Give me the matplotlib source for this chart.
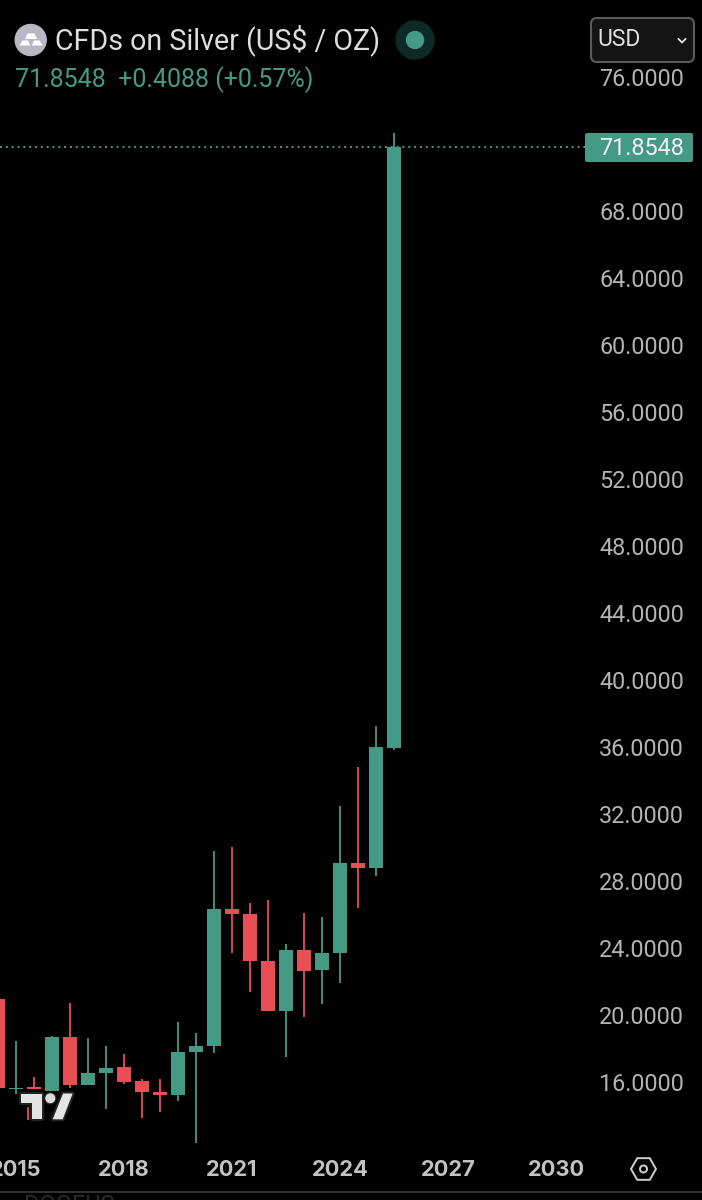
import matplotlib
matplotlib.use("Agg")
import matplotlib.pyplot as plt
import numpy as np
from matplotlib.patches import Circle, FancyBboxPatch, Polygon, Rectangle, RegularPolygon

plt.rcParams["font.family"] = ["Roboto", "DejaVu Sans"]

# half-year candles
periods = [2014.5, 2015.0, 2015.5, 2016.0, 2016.5, 2017.0, 2017.5, 2018.0,
           2018.5, 2019.0, 2019.5, 2020.0, 2020.5, 2021.0, 2021.5, 2022.0,
           2022.5, 2023.0, 2023.5, 2024.0, 2024.5, 2025.0, 2025.5]
opens = [21.00, 15.64, 15.74, 15.52, 18.72, 15.86, 16.58, 16.94,
         16.10, 15.48, 15.28, 17.85, 18.21, 26.37, 26.11, 23.30,
         20.28, 23.94, 22.75, 23.76, 29.13, 28.85, 36.00]
closes = [15.70, 15.73, 15.62, 18.73, 15.86, 16.58, 16.91, 16.08,
          15.45, 15.27, 17.85, 18.23, 26.37, 26.11, 23.28, 20.28,
          23.94, 22.70, 23.78, 29.13, 28.85, 36.06, 71.8548]
highs = [21.00, 18.51, 16.38, 18.81, 20.79, 18.67, 18.23, 17.71,
         16.22, 16.22, 19.64, 18.97, 29.87, 30.11, 26.76, 26.94,
         24.30, 26.15, 25.93, 32.54, 34.87, 37.31, 72.72]
lows = [15.70, 15.34, 15.62, 15.52, 15.70, 15.86, 14.45, 15.94,
        13.93, 14.29, 14.94, 12.40, 17.81, 23.78, 21.45, 20.28,
        17.57, 19.92, 20.72, 21.95, 26.47, 28.38, 35.88]

# the bit of the 2015.5 wick that shows beside the logo
stray_wick_x = [2015.33]
stray_wick_top = [14.57]
stray_wick_bottom = [13.79]

y_ticks = [76, 68, 64, 60, 56, 52, 48, 44, 40, 36, 32, 28, 24, 20, 16]
x_ticks = [2015, 2018, 2021, 2024, 2027, 2030]
last_price = 71.8548

GREEN = "#459a85"
RED = "#e84e53"
GREY = "#b4b4b4"

fig = plt.figure(figsize=(7.02, 12), dpi=100, facecolor="black")
ax = fig.add_axes([0, 0, 1, 1], facecolor="black")
ax.set_xlim(2018 - 124 / 36, 2018 + (702 - 124) / 36)
ax.set_ylim(76 - 1122 / 16.75, 76 + 78 / 16.75)
ax.axis("off")

# last price line
ax.plot([ax.get_xlim()[0], 2018 + (585 - 124) / 36], [last_price, last_price],
        color=GREEN, lw=1.4, ls=(0, (1, 2)), zorder=1)

colors = [GREEN if c >= o else RED for o, c in zip(opens, closes)]
ax.vlines(periods, lows, highs, colors=colors, lw=1.3, zorder=2)
ax.vlines(stray_wick_x, stray_wick_bottom, stray_wick_top, colors=RED, lw=1.3, zorder=2)
ax.bar(periods, np.array(closes) - np.array(opens), bottom=opens, width=0.4,
       color=colors, zorder=3)

for v in y_ticks:
    ax.annotate("%.4f" % v, (2018 + (684 - 124) / 36, v), xytext=(0, -1.2),
                textcoords="offset points", color=GREY, fontsize=16.8,
                ha="right", va="center", zorder=6)
for yr in x_ticks:
    ax.annotate(str(yr), (yr, 76 - (1170.5 - 78) / 16.75), xytext=(0, 0),
                textcoords="offset points", color="#c2c2c2", fontsize=15.7,
                fontweight="bold", family=["Inter", "DejaVu Sans"],
                ha="center", va="center", zorder=6)

# screen furniture, in pixels
ui = fig.add_axes([0, 0, 1, 1], facecolor="none")
ui.set_xlim(0, 702)
ui.set_ylim(1200, 0)
ui.axis("off")

ui.add_patch(Circle((30.7, 40), 15.5, color="#b9b7c3"))
for pts in ([(27.5, 33.5), (34.5, 33.5), (37, 39), (25, 39)],
            [(22.5, 40.5), (28, 40.5), (30.3, 45.5), (19.5, 45.5)],
            [(34, 40.5), (39.5, 40.5), (42.5, 45.5), (31.7, 45.5)]):
    ui.add_patch(Polygon(pts, fc="white", ec="none"))
ui.text(55, 40, "CFDs on Silver (US$ / OZ)", color="#dedede", fontsize=20.6,
        ha="left", va="center")
ui.add_patch(Circle((415, 40), 19, color="#0d2a25"))
ui.add_patch(Circle((415, 40), 8.5, color=GREEN))
ui.text(15, 79.5, "71.8548  +0.4088 (+0.57%)", color=GREEN, fontsize=18,
        ha="left", va="center")

ui.add_patch(FancyBboxPatch((594, 21), 97, 38, boxstyle="round,pad=3,rounding_size=6",
                            fc="#141414", ec="#5a5a5a", lw=1.5))
ui.text(597, 40, "USD", color="#e0e0e0", fontsize=16.5, ha="left", va="center")
ui.plot([678.5, 682, 685.5], [39, 42.5, 39], color="#e0e0e0", lw=1.3)

ui.add_patch(FancyBboxPatch((587, 135), 104, 25, boxstyle="round,pad=2,rounding_size=2",
                            fc=GREEN, ec="none", zorder=5))
ui.text(684, 148.5, "71.8548", color="#f2f2f2", fontsize=16.8, ha="right", va="center", zorder=6)

# watermark logo: dark halo first, then the fill on top
logo_parts = [[(21, 1093.5), (42.3, 1093.5), (42.3, 1119.3), (31.7, 1119.3), (31.7, 1103), (21, 1103)],
              [(63, 1093.5), (72.7, 1093.5), (62.7, 1119.3), (52.7, 1119.3)]]
for pts in logo_parts:
    ui.add_patch(Polygon(pts, fc="#222222", ec="#222222", lw=3, joinstyle="round"))
ui.add_patch(Circle((50.3, 1098.3), 5, fc="#222222", ec="#222222", lw=2))
for pts in logo_parts:
    ui.add_patch(Polygon(pts, fc="#e4e4e4", ec="none"))
ui.add_patch(Circle((50.3, 1098.3), 5, fc="#dcdcdc", ec="none"))

ui.add_patch(RegularPolygon((643.5, 1169), 6, radius=12.5, orientation=np.pi / 6,
                            fc="none", ec="#d0d0d0", lw=1.4))
ui.add_patch(Circle((643.5, 1169), 3.5, fc="none", ec="#d0d0d0", lw=1.4))

ui.plot([0, 702], [1192, 1192], color="#3a3a3a", lw=1.2)
label = ui.text(24, 1205, "DOGEUS", color="#2a2a2a", fontsize=17, ha="left", va="center")
label.set_clip_path(Rectangle((0, 1193), 702, 7, transform=ui.transData))

fig.savefig("out.png", dpi=100, facecolor="black")
